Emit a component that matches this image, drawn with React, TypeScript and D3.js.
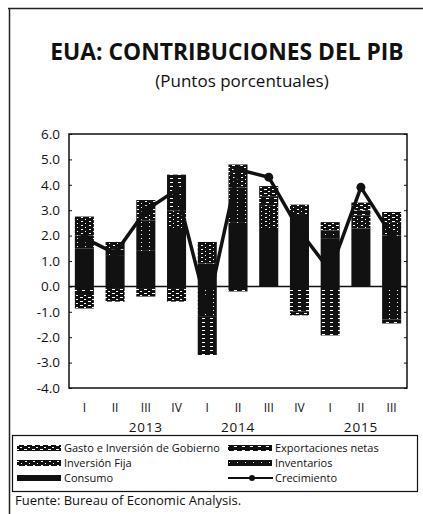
import React, { useRef, useEffect } from 'react';
import * as d3 from 'd3';

const quarters = ['I', 'II', 'III', 'IV', 'I', 'II', 'III', 'IV', 'I', 'II', 'III'];
const yearLabels = ['2013', '2014', '2015'];
const yearAtQuarter = [2, 5, 9];
const yTicks = [6, 5, 4, 3, 2, 1, 0, -1, -2, -3, -4];

const consumo = [1.5, 1.2, 1.4, 2.3, 0.9, 2.5, 2.3, 2.85, 1.9, 2.28, 2.0];
const inventarios = [0.5, 0.25, 1.2, -0.1, -1.2, 1.4, 0.0, 0.0, 0.3, 0.0, -1.3];
const inversionFija = [0.75, 0.3, 0.8, 0.7, 0.85, 0.6, 0.9, 0.37, 0.1, 0.5, 0.5];
const exportaciones = [-0.3, -0.1, -0.1, 1.4, -1.5, -0.2, 0.35, -1.0, -1.93, 0.22, -0.16];
const gasto = [-0.57, -0.5, -0.3, -0.5, 0.0, 0.3, 0.4, -0.14, 0.23, 0.3, 0.43];
const crecimiento = [1.9, 1.3, 3.0, 3.8, -0.9, 4.6, 4.3, 2.2, 0.6, 3.9, 2.0];

const seriesKeys = ['consumo', 'inventarios', 'inversionFija', 'exportaciones', 'gasto'];
const seriesValues = [consumo, inventarios, inversionFija, exportaciones, gasto];

const App = () => {
  const svgRef = useRef(null);

  useEffect(() => {
    const W = 423;
    const H = 514;
    const plot = { left: 69, right: 407, top: 134, bottom: 388 };
    const font = "'Open Sans', sans-serif";

    const svg = d3.select(svgRef.current);
    svg.selectAll('*').remove();
    svg.attr('width', W).attr('height', H).attr('viewBox', `0 0 ${W} ${H}`);

    // scanned look: near-black base with sparse white specks
    const defs = svg.append('defs');
    const speck = {
      consumo: [],
      inventarios: [[5, 2, 1]],
      inversionFija: [[1, 1, 2], [5, 3, 1]],
      exportaciones: [[2, 2, 3]],
      gasto: [[0, 1, 3], [4, 3, 2]],
    };
    seriesKeys.forEach((k) => {
      const p = defs
        .append('pattern')
        .attr('id', `pat-${k}`)
        .attr('patternUnits', 'userSpaceOnUse')
        .attr('width', 8)
        .attr('height', 4);
      p.append('rect').attr('width', 8).attr('height', 4).attr('fill', '#111');
      speck[k].forEach(([sx, sy, sw]) => {
        p.append('rect').attr('x', sx).attr('y', sy).attr('width', sw).attr('height', 1).attr('fill', '#fff');
      });
    });

    // frame of the figure
    svg.append('line').attr('x1', 8).attr('x2', W).attr('y1', 8.5).attr('y2', 8.5).attr('stroke', '#222').attr('stroke-width', 1.5);
    svg.append('line').attr('x1', 9.5).attr('x2', 9.5).attr('y1', 8).attr('y2', H).attr('stroke', '#222').attr('stroke-width', 1.5);

    svg
      .append('text')
      .attr('x', 227)
      .attr('y', 60)
      .attr('text-anchor', 'middle')
      .attr('font-family', font)
      .attr('font-weight', 700)
      .attr('font-size', 22.8)
      .attr('fill', '#111')
      .text('EUA: CONTRIBUCIONES DEL PIB');

    svg
      .append('text')
      .attr('x', 242)
      .attr('y', 87)
      .attr('text-anchor', 'middle')
      .attr('font-family', font)
      .attr('font-size', 17)
      .attr('fill', '#111')
      .text('(Puntos porcentuales)');

    const x = d3
      .scaleBand()
      .domain(quarters.map((_, i) => String(i)))
      .range([plot.left, plot.right])
      .paddingInner(0.38)
      .paddingOuter(0.19);
    const y = d3.scaleLinear().domain([-4, 6]).range([plot.bottom, plot.top]);

    const rows = quarters.map((_, i) => {
      const r = { idx: String(i) };
      seriesKeys.forEach((k, j) => (r[k] = seriesValues[j][i]));
      return r;
    });
    const stacked = d3.stack().keys(seriesKeys).offset(d3.stackOffsetDiverging)(rows);

    const g = svg.append('g');
    stacked.forEach((layer) => {
      g.selectAll(null)
        .data(layer)
        .join('rect')
        .attr('x', (d) => x(d.data.idx))
        .attr('width', x.bandwidth())
        .attr('y', (d) => y(Math.max(d[0], d[1])))
        .attr('height', (d) => Math.abs(y(d[0]) - y(d[1])))
        .attr('fill', `url(#pat-${layer.key})`);
    });

    // plot box, zero line
    svg
      .append('rect')
      .attr('x', plot.left)
      .attr('y', plot.top)
      .attr('width', plot.right - plot.left)
      .attr('height', plot.bottom - plot.top)
      .attr('fill', 'none')
      .attr('stroke', '#111')
      .attr('stroke-width', 1.5);
    svg
      .append('line')
      .attr('x1', plot.left)
      .attr('x2', plot.right)
      .attr('y1', y(0))
      .attr('y2', y(0))
      .attr('stroke', '#111')
      .attr('stroke-width', 1.5);

    const yAxis = svg
      .append('g')
      .attr('transform', `translate(${plot.left},0)`)
      .call(d3.axisLeft(y).tickValues(yTicks).tickFormat(d3.format('.1f')).tickSize(-3).tickPadding(9));
    yAxis.select('.domain').remove();
    yAxis.selectAll('line').attr('stroke', '#111');
    yAxis
      .selectAll('text')
      .attr('font-family', font)
      .attr('font-size', 13.5)
      .attr('fill', '#111')
      .text((d) => d3.format('.1f')(d).replace('−', '-'));

    const yAxisR = svg
      .append('g')
      .attr('transform', `translate(${plot.right},0)`)
      .call(d3.axisRight(y).tickValues(yTicks).tickFormat(() => '').tickSize(-3));
    yAxisR.select('.domain').remove();
    yAxisR.selectAll('line').attr('stroke', '#111');

    // growth line
    const cx = (i) => x(String(i)) + x.bandwidth() / 2;
    const line = d3
      .line()
      .x((_, i) => cx(i))
      .y((d) => y(d));
    svg
      .append('path')
      .datum(crecimiento)
      .attr('fill', 'none')
      .attr('stroke', '#111')
      .attr('stroke-width', 3.5)
      .attr('stroke-linejoin', 'round')
      .attr('d', line);
    svg
      .selectAll(null)
      .data(crecimiento)
      .join('circle')
      .attr('cx', (_, i) => cx(i))
      .attr('cy', (d) => y(d))
      .attr('r', 4.5)
      .attr('fill', '#111');

    // x labels
    svg
      .selectAll(null)
      .data(quarters)
      .join('text')
      .attr('x', (_, i) => cx(i))
      .attr('y', 412)
      .attr('text-anchor', 'middle')
      .attr('font-family', font)
      .attr('font-size', 12)
      .attr('fill', '#111')
      .text((d) => d);
    svg
      .selectAll(null)
      .data(yearLabels)
      .join('text')
      .attr('x', (_, i) => cx(yearAtQuarter[i]))
      .attr('y', 432)
      .attr('text-anchor', 'middle')
      .attr('font-family', font)
      .attr('font-size', 13.5)
      .attr('letter-spacing', 0.8)
      .attr('fill', '#111')
      .text((d) => d);

    // legend
    svg
      .append('rect')
      .attr('x', 12.5)
      .attr('y', 435.5)
      .attr('width', 405)
      .attr('height', 56)
      .attr('fill', 'none')
      .attr('stroke', '#111')
      .attr('stroke-width', 1.2);

    const legendItems = [
      { key: 'gasto', label: 'Gasto e Inversión de Gobierno', col: 0, row: 0 },
      { key: 'exportaciones', label: 'Exportaciones netas', col: 1, row: 0 },
      { key: 'inversionFija', label: 'Inversión Fija', col: 0, row: 1 },
      { key: 'inventarios', label: 'Inventarios', col: 1, row: 1 },
      { key: 'consumo', label: 'Consumo', col: 0, row: 2 },
      { key: 'crecimiento', label: 'Crecimiento', col: 1, row: 2 },
    ];
    const colX = [17, 228];
    legendItems.forEach((it) => {
      const lx = colX[it.col];
      const ly = 448 + it.row * 15;
      if (it.key === 'crecimiento') {
        svg.append('line').attr('x1', lx).attr('x2', lx + 45).attr('y1', ly).attr('y2', ly).attr('stroke', '#111').attr('stroke-width', 2);
        svg.append('circle').attr('cx', lx + 24).attr('cy', ly).attr('r', 3).attr('fill', '#111');
      } else {
        svg
          .append('rect')
          .attr('x', lx)
          .attr('y', ly - 3)
          .attr('width', 44)
          .attr('height', 6)
          .attr('fill', `url(#pat-${it.key})`);
      }
      svg
        .append('text')
        .attr('x', lx + 47)
        .attr('y', ly + 4)
        .attr('font-family', font)
        .attr('font-size', 11)
        .attr('fill', '#111')
        .text(it.label);
    });

    svg
      .append('text')
      .attr('x', 15)
      .attr('y', 505)
      .attr('font-family', font)
      .attr('font-size', 13)
      .attr('fill', '#111')
      .text('Fuente:  Bureau of Economic Analysis.');
  }, []);

  return <svg ref={svgRef} style={{ position: 'absolute', left: 0, top: 0, background: '#fff' }} />;
};

export default App;
